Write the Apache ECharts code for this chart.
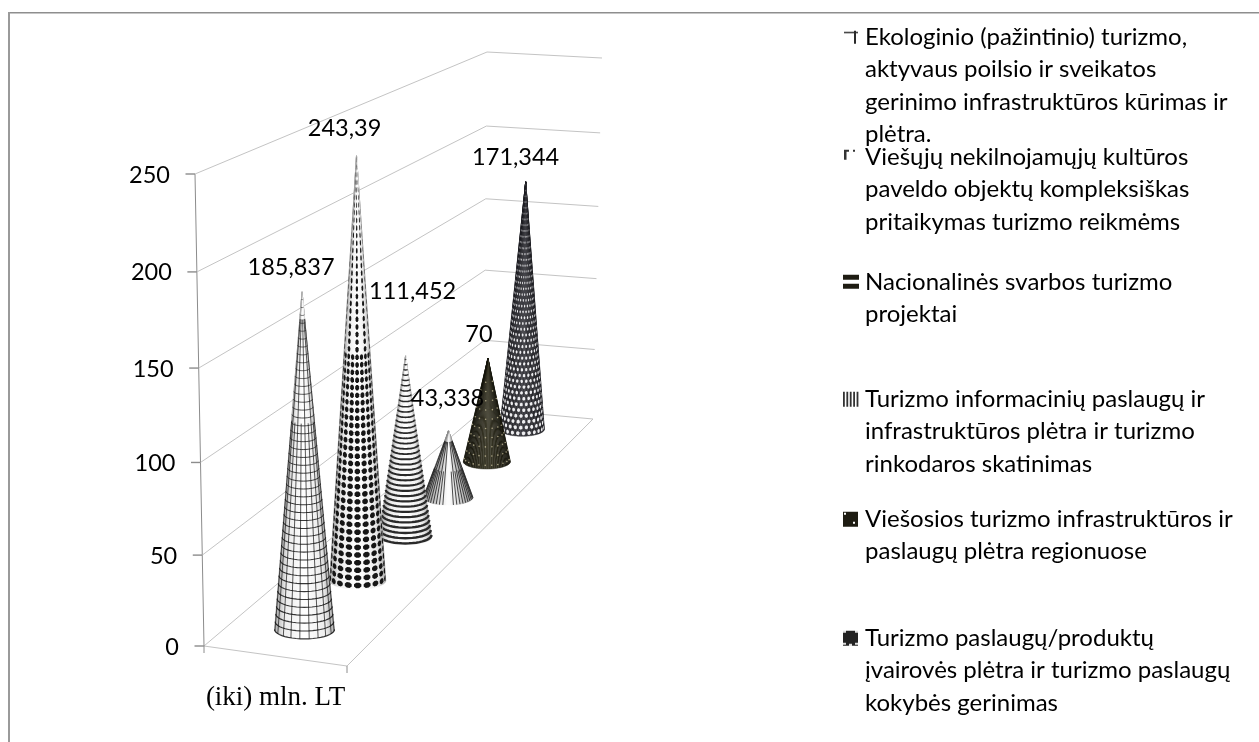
<!DOCTYPE html>
<html>
<head>
<meta charset="utf-8">
<style>html,body{margin:0;padding:0;background:#fff}#chart{width:1259px;height:742px}</style>
<script src="https://cdn.jsdelivr.net/npm/echarts@6/dist/echarts.min.js"></script>
</head>
<body>
<div id="chart"></div>
<script>
// Funding ceilings per tourism measure, million LT
const category = '(iki) mln. LT';
const seriesValues = [185.837, 243.39, 111.452, 43.338, 70, 171.344];
const tickValues = [0, 50, 100, 150, 200, 250];
const legendLines = [
  ['Ekologinio (pažintinio) turizmo,', 'aktyvaus poilsio ir sveikatos', 'gerinimo infrastruktūros kūrimas ir', 'plėtra.'],
  ['Viešųjų nekilnojamųjų kultūros', 'paveldo objektų kompleksiškas', 'pritaikymas turizmo reikmėms'],
  ['Nacionalinės svarbos turizmo', 'projektai'],
  ['Turizmo informacinių paslaugų ir', 'infrastruktūros plėtra ir turizmo', 'rinkodaros skatinimas'],
  ['Viešosios turizmo infrastruktūros ir', 'paslaugų plėtra regionuose'],
  ['Turizmo paslaugų/produktų', 'įvairovės plėtra ir turizmo paslaugų', 'kokybės gerinimas']
];

const TEXT_FONT = 'Lato';
const TEXT_SIZE = 23.5;
const LEGEND_SIZE = 24;
const LINE = 32.5;
const GRID = {left: 204, top: 174, width: 143, height: 472};
const legendFirstLine = [37, 157, 282, 399, 519, 638];
const labelOffset = [[-11, -24], [-12, -27], [7, -64], [-1, -32], [-9, -24], [-10, -24]];

// Box corners of the 3D scene: [lateral][depth][bottom, top]
const BOX = {
  fl0: [204, 646], fl1: [195, 174],
  fr0: [347, 666], fr1: [347, 194],
  bl0: [484, 409], bl1: [487, 52],
  br0: [593, 419], br1: [602, 58]
};
const lerp = (a, b, t) => a + (b - a) * t;
const lerp2 = (p, q, t) => [lerp(p[0], q[0], t), lerp(p[1], q[1], t)];

// Vertical foreshortening of the value scale
const warp = l => l * (0.9535 + 0.0465 * l);
// Depth foreshortening for a category slot t in 0..1
const depthOf = t => 1.364 * t / (1 + 0.364 * t);

function project(u, d, l) {
  const w = warp(l);
  const front = lerp2(lerp2(BOX.fl0, BOX.fl1, w), lerp2(BOX.fr0, BOX.fr1, w), u);
  const back = lerp2(lerp2(BOX.bl0, BOX.bl1, w), lerp2(BOX.br0, BOX.br1, w), u);
  return lerp2(front, back, d);
}
// Share of the axis height occupied by a value, taken from the axis scale itself
function axisShare(api, v) {
  const y0 = api.coord([category, 0])[1];
  const yMax = api.coord([category, 250])[1];
  return (y0 - api.coord([category, v])[1]) / (y0 - yMax);
}

function coneFrame(api, i, value) {
  const d = depthOf((i + 0.5) / seriesValues.length);
  const base = project(0.5, d, 0);
  const tip = project(0.5, d, axisShare(api, value));
  const rx = 31 * (1 - 0.3 * d);
  const ry = rx * 0.32;
  const at = (th, s) => lerp2([base[0] + rx * Math.cos(th), base[1] + ry * Math.sin(th)], tip, s);
  return {base, tip, rx, ry, at};
}
function ring(f, s, steps) {
  const pts = [];
  for (let k = 0; k <= steps; k++) pts.push(f.at(Math.PI * k / steps, s));
  return pts;
}
// Shade level between edge and centre of the cone, as an rgb triple
function shade(stops, x) {
  let k = 0;
  while (k < stops.length - 2 && x > stops[k + 1][0]) k++;
  const a = stops[k], b = stops[k + 1];
  const t = (x - a[0]) / (b[0] - a[0]);
  return `rgb(${[1, 2, 3].map(n => Math.round(lerp(a[n], b[n], t))).join(',')})`;
}
// Wedges running up to the tip, so the shading narrows with the cone
function body(f, stops) {
  const out = [];
  const wedges = 36;
  for (let k = 0; k < wedges; k++) {
    const a = Math.PI * k / wedges, b = Math.PI * (k + 1) / wedges;
    const color = shade(stops, Math.abs(Math.cos((a + b) / 2)));
    out.push({
      type: 'polygon',
      shape: {points: [f.at(a, 0), f.at(b, 0), f.tip]},
      style: {fill: color, stroke: color, lineWidth: 0.4}
    });
  }
  return out;
}
function blob(f, th, s, dth, ds, fill) {
  const pts = [];
  for (let k = 0; k < 8; k++) {
    const a = (k + 0.5) * Math.PI / 4;
    pts.push(f.at(th + dth * Math.cos(a) * 1.08, s + ds * Math.sin(a) * 1.08));
  }
  return {type: 'polygon', shape: {points: pts}, style: {fill}};
}
const stroke = (pts, color, width) => ({
  type: 'polyline', shape: {points: pts}, style: {stroke: color, lineWidth: width, fill: null}
});

// [distance from centre, r, g, b]
const paleStops = [[0, 255, 255, 255], [0.72, 236, 236, 236], [1, 170, 170, 170]];
const ribStops = [[0, 255, 255, 255], [0.25, 235, 235, 235], [1, 140, 140, 140]];
const oliveStops = [[0, 63, 61, 45], [1, 20, 19, 10]];
const slateStops = [[0, 58, 58, 64], [1, 28, 28, 32]];

// Surface patterns, one per series
const surfaces = [
  function grid(f) {
    const out = body(f, paleStops);
    const rows = 44;
    for (let r = 0; r < rows; r++) {
      const s = r / rows;
      out.push(stroke(ring(f, s, 22), 'rgba(20,20,20,0.85)', 1.2 - 0.5 * s));
    }
    const cols = 10;
    for (let c = 0; c < cols; c++) {
      const th = Math.PI * (c + 0.5) / cols;
      const topS = c % 2 ? 0.62 : 0.92;
      out.push(stroke([f.at(th, 0), f.at(th, topS)], 'rgba(20,20,20,0.7)', 1));
    }
    return out;
  },
  function diamonds(f) {
    const out = body(f, paleStops);
    const rows = 57, cols = 9;
    const dth = Math.PI / cols * 0.38, ds = 0.36 / rows;
    for (let r = 0; r < rows; r++) {
      const s = (r + 0.5) / rows;
      for (let c = 0; c < cols; c++) {
        // Higher up the narrowing surface only every other column stays readable
        if (s > 0.55 && c % 2 === 1) continue;
        out.push(blob(f, Math.PI * (c + 0.5) / cols, s, dth, ds, '#161616'));
      }
    }
    return out;
  },
  function stripes(f) {
    const out = body(f, paleStops);
    const rows = 36;
    for (let r = 0; r < rows; r++) {
      const s = (r + 0.3) / rows;
      out.push(stroke(ring(f, s, 22), '#2a2a2a', 2.5 - 1.2 * s));
    }
    return out;
  },
  function ribs(f) {
    const out = body(f, ribStops);
    const cols = 22;
    for (let c = 0; c < cols; c++) {
      const th = Math.PI * (c + 0.5) / cols;
      if (Math.abs(th - Math.PI / 2) < 0.2) continue;
      const topS = c % 2 ? 0.45 : 0.85;
      out.push(stroke([f.at(th, 0), f.at(th, topS)], 'rgba(20,20,20,0.8)', 0.95));
    }
    return out;
  },
  function speckle(f) {
    const out = body(f, oliveStops);
    const rows = 12;
    for (let r = 0; r < rows; r++) {
      const s = (r + 0.4) / rows;
      if (s > 0.85) continue;
      const cols = Math.max(2, Math.round(11 * (1 - s)));
      for (let c = 0; c < cols; c++) {
        const th = Math.PI * (c + (r % 2 ? 0.25 : 0.75)) / cols;
        const p = f.at(th, s);
        out.push({
          type: 'circle', shape: {cx: p[0], cy: p[1], r: 0.8},
          style: {fill: 'rgba(215,205,165,0.7)'}
        });
      }
    }
    return out;
  },
  function hexDots(f) {
    const out = body(f, slateStops);
    const rows = 44, cols = 12;
    for (let r = 0; r < rows; r++) {
      const s = (r + 0.5) / rows;
      const shrink = 1 - 0.55 * s;
      const dth = Math.PI / cols * 0.3 * shrink, ds = 0.33 / rows * shrink;
      for (let c = 0; c < cols; c++) {
        const th = Math.PI * (c + (r % 2 ? 0.25 : 0.75)) / cols;
        out.push(blob(f, th, s, dth, ds, 'rgba(248,248,250,0.95)'));
      }
    }
    return out;
  }
];

// Small legend swatches, with blank room below so the icon sits on the first text line
function swatch(i, lines) {
  const w = 18, h = Math.round(lines * LINE);
  const cv = document.createElement('canvas');
  cv.width = w; cv.height = h;
  const c = cv.getContext('2d');
  const x = 1, y = Math.round(LINE / 2 - 7.5), s = 15;
  const dark = '#1e1c12';
  if (i === 0) {
    c.fillStyle = '#2a2a2a';
    c.fillRect(x + 1, y + 2, s - 1, 1.4);
    c.fillRect(x + 11, y + 1, 2, s - 2);
  } else if (i === 1) {
    c.fillStyle = '#333';
    c.fillRect(x + 1, y, 5, 2);
    c.fillRect(x + 1, y, 2.5, 10);
    c.fillRect(x + 10, y, 2, 2);
  } else if (i === 2) {
    c.fillStyle = dark;
    c.fillRect(x, y, s + 1, 5);
    c.fillRect(x, y + 9, s + 1, 5);
  } else if (i === 3) {
    c.fillStyle = '#333';
    for (let k = 0; k < 5; k++) c.fillRect(x + k * 3.4, y, 1.8, s);
  } else if (i === 4) {
    c.fillStyle = dark;
    c.fillRect(x, y, s, s);
    c.fillStyle = '#fff';
    c.fillRect(x + 1, y + 1, 2, 2);
    c.fillRect(x + 10, y + 10, 2, 2);
  } else {
    c.fillStyle = '#222';
    c.fillRect(x, y, s, s);
    c.fillStyle = '#ddd';
    [[0, 0], [12, 0], [0, 12], [12, 12], [6, 13]].forEach(o => c.fillRect(x + o[0], y + o[1], 3, 2));
  }
  return 'image://' + cv.toDataURL();
}

const names = legendLines.map(l => l.join(' '));

const coneSeries = seriesValues.map((value, i) => ({
  name: names[i],
  type: 'custom',
  coordinateSystem: 'cartesian2d',
  z: 10 + seriesValues.length - i,
  silent: true,
  clip: false,
  data: [[category, value]],
  renderItem(params, api) {
    const f = coneFrame(api, i, api.value(1));
    return {type: 'group', children: surfaces[i](f)};
  }
}));

// Walls, floor and axis ticks of the scene
const sceneSeries = {
  name: 'scene',
  type: 'custom',
  coordinateSystem: 'cartesian2d',
  z: 2,
  silent: true,
  clip: false,
  data: tickValues.map(v => [category, v]),
  renderItem(params, api) {
    const l = axisShare(api, api.value(1));
    const fl = project(0, 0, l), bl = project(0, 1, l), br = project(1, 1, l);
    const wall = '#c4c4c4', axis = '#8c8c8c';
    const kids = [
      stroke([fl, bl, br], wall, 1),
      stroke([[fl[0] - 9.5, fl[1]], fl], axis, 1.4)
    ];
    if (params.dataIndex === 0) {
      const fr = project(1, 0, 0);
      kids.push(stroke([fl, fr, br], wall, 1));
      kids.push(stroke([fl, project(0, 0, 1)], axis, 1));
      kids.push(stroke([fl, [fl[0], fl[1] + 7]], axis, 1));
      kids.push(stroke([fr, [fr[0], fr[1] + 7]], axis, 1));
    }
    return {type: 'group', children: kids};
  }
};

// Values written beside each cone tip, above every cone
const valueSeries = {
  name: 'values',
  type: 'custom',
  coordinateSystem: 'cartesian2d',
  z: 30,
  silent: true,
  clip: false,
  data: seriesValues.map(v => [category, v]),
  renderItem(params, api) {
    const i = params.dataIndex;
    const f = coneFrame(api, i, api.value(1));
    return {
      type: 'text',
      style: {
        text: String(seriesValues[i]).replace('.', ','),
        x: f.tip[0] + labelOffset[i][0],
        y: f.tip[1] + labelOffset[i][1],
        align: 'center',
        verticalAlign: 'middle',
        fontFamily: TEXT_FONT,
        fontSize: TEXT_SIZE,
        fill: '#000'
      }
    };
  }
};

// Tick labels lean with the wall and follow its foreshortening
const tickRich = {};
tickValues.forEach(v => {
  const l = v / 250;
  const drop = GRID.height * (l - warp(l)) + 1;
  tickRich['t' + v] = {
    fontFamily: TEXT_FONT, fontSize: TEXT_SIZE, color: '#000',
    padding: [drop * 2, l * 9, 0, 0]
  };
});

const chart = echarts.init(document.getElementById('chart'), null, {renderer: 'canvas'});
chart.setOption({
  animation: false,
  backgroundColor: '#fff',
  grid: GRID,
  xAxis: {
    type: 'category',
    data: [category],
    axisLine: {show: false},
    axisTick: {show: false},
    axisLabel: {margin: 38, color: '#000', fontFamily: 'Liberation Serif', fontSize: 27}
  },
  yAxis: {
    type: 'value',
    min: 0,
    max: 250,
    interval: 50,
    axisLine: {show: false},
    axisTick: {show: false},
    splitLine: {show: false},
    axisLabel: {
      margin: 25,
      formatter: v => `{t${v}|${v}}`,
      rich: tickRich
    }
  },
  legend: legendLines.map((lines, i) => ({
    left: 842,
    top: legendFirstLine[i] - LINE / 2,
    padding: 0,
    orient: 'vertical',
    selectedMode: false,
    itemWidth: 18,
    itemHeight: Math.round(lines.length * LINE),
    data: [{name: names[i], icon: swatch(i, lines.length)}],
    formatter: () => lines.join('\n'),
    textStyle: {fontFamily: TEXT_FONT, fontSize: LEGEND_SIZE, lineHeight: LINE, color: '#000'}
  })),
  // Chart frame: top and left rules only
  graphic: [
    {type: 'rect', shape: {x: 8, y: 12, width: 1251, height: 1.5}, style: {fill: '#8e8e8e'}},
    {type: 'rect', shape: {x: 8, y: 12, width: 2, height: 730}, style: {fill: '#9a9a9a'}}
  ],
  series: [sceneSeries].concat(coneSeries, [valueSeries])
});
</script>
</body>
</html>
